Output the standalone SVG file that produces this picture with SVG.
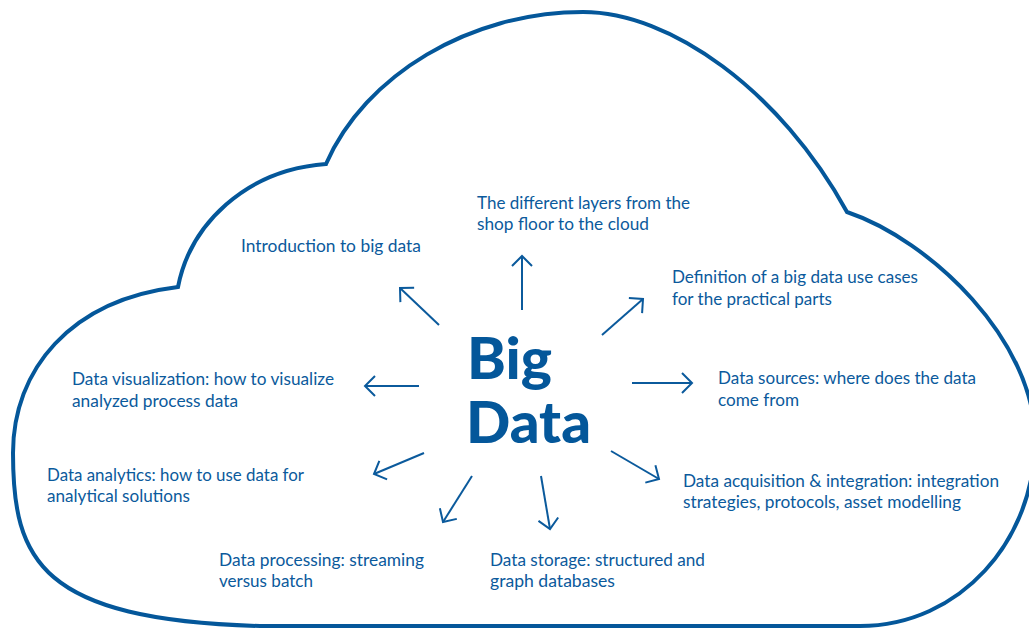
<svg xmlns="http://www.w3.org/2000/svg" width="1029" height="628" viewBox="0 0 1029 628">
  <defs>
    <style>
      .cloud { fill: #ffffff; stroke: #04579a; stroke-width: 4; stroke-linejoin: miter; }
      .lbl { font-family: Lato, "Open Sans", sans-serif; font-size: 16.5px; fill: #0b5a9c; }
      .big { font-family: Lato, "Open Sans", sans-serif; font-weight: 900; font-size: 58px; fill: #04579a; }
      .conn { stroke: #0b5a9c; stroke-width: 2; fill: none; marker-end: url(#head); }
    </style>
    <marker id="head" markerUnits="userSpaceOnUse" markerWidth="24" markerHeight="24" viewBox="-12 -12 24 24" refX="0" refY="0" orient="auto">
      <path d="M-10,-10 L0,0 L-10,10" fill="none" stroke="#0b5a9c" stroke-width="2" stroke-linecap="butt" stroke-linejoin="miter"/>
    </marker>
  </defs>

  <g id="cloud">
    <path class="cloud" d="M326,164 C365,75 470,12 583,12 C670,12 780,90 847,212 C930,240 1035,340 1035,440 C1035,540 960,626 860,626 L260,626 C40,620 13,560 13,453 C13,370 70,300 178,287 C190,225 245,170 326,164 Z"/>
  </g>

  <g id="center">
    <text class="big" x="467" y="379" textLength="85" lengthAdjust="spacingAndGlyphs">Big</text>
    <text class="big" x="466" y="443" textLength="125" lengthAdjust="spacingAndGlyphs">Data</text>
  </g>

  <g id="connectors">
    <line class="conn" x1="522" y1="310" x2="522" y2="256"/>
    <line class="conn" x1="439" y1="325" x2="400" y2="288"/>
    <line class="conn" x1="602" y1="335" x2="643" y2="299"/>
    <line class="conn" x1="419" y1="386" x2="365" y2="386"/>
    <line class="conn" x1="632" y1="383" x2="692" y2="383"/>
    <line class="conn" x1="424" y1="453" x2="374" y2="474"/>
    <line class="conn" x1="472" y1="476" x2="443" y2="522"/>
    <line class="conn" x1="541" y1="476" x2="550" y2="529"/>
    <line class="conn" x1="611" y1="451" x2="659" y2="479"/>
  </g>

  <g id="layers">
    <text class="lbl" x="477" y="209" textLength="213" lengthAdjust="spacingAndGlyphs">The different layers from the</text>
    <text class="lbl" x="477" y="230" textLength="172" lengthAdjust="spacingAndGlyphs">shop floor to the cloud</text>
  </g>
  <g id="introduction">
    <text class="lbl" x="241" y="252" textLength="180" lengthAdjust="spacingAndGlyphs">Introduction to big data</text>
  </g>
  <g id="definition">
    <text class="lbl" x="672" y="283" textLength="246" lengthAdjust="spacingAndGlyphs">Definition of a big data use cases</text>
    <text class="lbl" x="672" y="305" textLength="160" lengthAdjust="spacingAndGlyphs">for the practical parts</text>
  </g>
  <g id="visualization">
    <text class="lbl" x="72" y="385" textLength="262" lengthAdjust="spacingAndGlyphs">Data visualization: how to visualize</text>
    <text class="lbl" x="72" y="407" textLength="166" lengthAdjust="spacingAndGlyphs">analyzed process data</text>
  </g>
  <g id="sources">
    <text class="lbl" x="718" y="384" textLength="258" lengthAdjust="spacingAndGlyphs">Data sources: where does the data</text>
    <text class="lbl" x="718" y="406" textLength="81" lengthAdjust="spacingAndGlyphs">come from</text>
  </g>
  <g id="analytics">
    <text class="lbl" x="47" y="481" textLength="257" lengthAdjust="spacingAndGlyphs">Data analytics: how to use data for</text>
    <text class="lbl" x="47" y="502" textLength="143" lengthAdjust="spacingAndGlyphs">analytical solutions</text>
  </g>
  <g id="acquisition">
    <text class="lbl" x="683" y="487" textLength="316" lengthAdjust="spacingAndGlyphs">Data acquisition &amp; integration: integration</text>
    <text class="lbl" x="683" y="508" textLength="278" lengthAdjust="spacingAndGlyphs">strategies, protocols, asset modelling</text>
  </g>
  <g id="processing">
    <text class="lbl" x="219" y="566" textLength="205" lengthAdjust="spacingAndGlyphs">Data processing: streaming</text>
    <text class="lbl" x="219" y="587" textLength="94" lengthAdjust="spacingAndGlyphs">versus batch</text>
  </g>
  <g id="storage">
    <text class="lbl" x="490" y="566" textLength="215" lengthAdjust="spacingAndGlyphs">Data storage: structured and</text>
    <text class="lbl" x="490" y="587" textLength="125" lengthAdjust="spacingAndGlyphs">graph databases</text>
  </g>
</svg>
